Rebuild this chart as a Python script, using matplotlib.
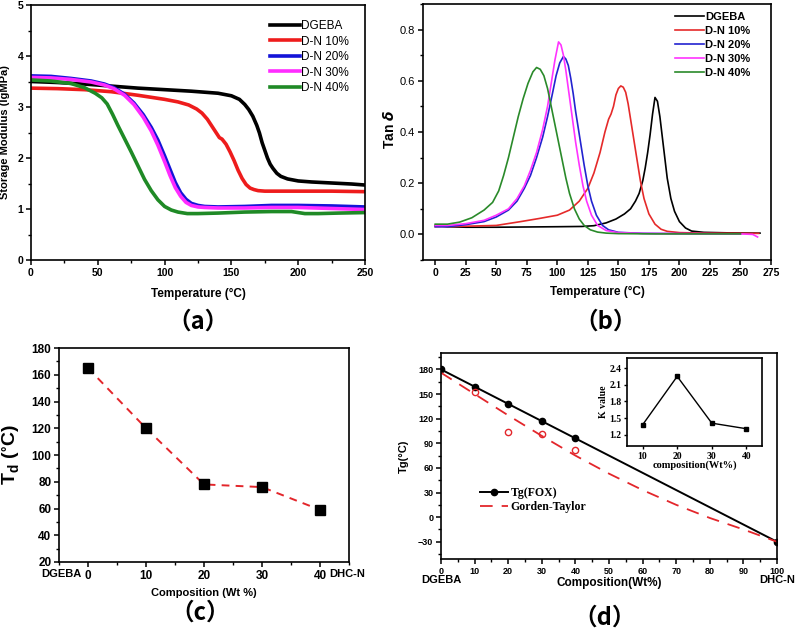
"""DMA / Tg summary figure: storage modulus, tan delta, Td and Tg vs composition."""

import matplotlib

matplotlib.use("Agg")
import matplotlib.pyplot as plt
from matplotlib.ticker import MultipleLocator

plt.rcParams["font.family"] = ["Liberation Sans", "DejaVu Sans"]
plt.rcParams["font.weight"] = "bold"
plt.rcParams["axes.labelweight"] = "bold"
plt.rcParams["axes.linewidth"] = 1.2
plt.rcParams["xtick.direction"] = "out"
plt.rcParams["ytick.direction"] = "out"

SERIES = ["DGEBA", "D-N 10%", "D-N 20%", "D-N 30%", "D-N 40%"]

# ---- (a) storage modulus (lgMPa) vs temperature ----
a_dgeba_t = [0, 20, 40, 60, 80, 100, 120, 140, 150, 156, 160, 163, 166, 169, 171, 173, 175,
             177, 179, 181, 184, 187, 192, 200, 210, 225, 240, 250]
a_dgeba_e = [3.50, 3.48, 3.45, 3.41, 3.37, 3.34, 3.31, 3.27, 3.22, 3.15, 3.05, 2.95, 2.82, 2.64,
             2.49, 2.30, 2.15, 2.00, 1.88, 1.80, 1.70, 1.64, 1.59, 1.55, 1.53, 1.51, 1.49, 1.47]
a_dn10_t = [0, 20, 40, 60, 80, 100, 110, 118, 124, 128, 132, 136, 139, 141, 143, 146, 149, 152,
            155, 158, 161, 164, 167, 170, 175, 185, 200, 225, 250]
a_dn10_e = [3.37, 3.36, 3.34, 3.30, 3.23, 3.15, 3.10, 3.04, 2.96, 2.88, 2.76, 2.60, 2.48, 2.40,
            2.37, 2.27, 2.12, 1.95, 1.76, 1.60, 1.48, 1.41, 1.38, 1.36, 1.35, 1.35, 1.35, 1.35, 1.34]
a_dn20_t = [0, 15, 30, 45, 55, 62, 70, 77, 84, 90, 95, 100, 104, 108, 112, 116, 120, 125, 130,
            140, 160, 180, 200, 225, 250]
a_dn20_e = [3.61, 3.60, 3.56, 3.51, 3.45, 3.38, 3.25, 3.08, 2.85, 2.60, 2.35, 2.04, 1.78, 1.52,
            1.32, 1.19, 1.11, 1.07, 1.05, 1.04, 1.05, 1.07, 1.07, 1.06, 1.04]
a_dn30_t = [0, 15, 30, 45, 55, 62, 70, 77, 84, 90, 95, 100, 104, 108, 112, 116, 120, 125, 130,
            140, 160, 180, 200, 225, 250]
a_dn30_e = [3.58, 3.57, 3.54, 3.49, 3.43, 3.36, 3.23, 3.05, 2.80, 2.53, 2.25, 1.93, 1.66, 1.42,
            1.25, 1.13, 1.07, 1.04, 1.03, 1.02, 1.02, 1.03, 1.03, 1.01, 0.99]
a_dn40_t = [0, 15, 30, 40, 48, 53, 57, 61, 65, 70, 75, 80, 85, 90, 95, 100, 105, 110, 117, 125,
            140, 160, 180, 195, 200, 205, 215, 230, 250]
a_dn40_e = [3.53, 3.51, 3.46, 3.38, 3.27, 3.18, 3.06, 2.86, 2.64, 2.38, 2.12, 1.85, 1.58, 1.36,
            1.18, 1.05, 0.98, 0.94, 0.91, 0.91, 0.92, 0.94, 0.95, 0.95, 0.93, 0.91, 0.91, 0.92, 0.93]

# ---- (b) tan delta vs temperature ----
b_dgeba_t = [0, 10, 25, 50, 75, 100, 120, 130, 140, 148, 155, 160, 164, 167, 170, 172, 174, 176,
             178, 180, 182, 184, 186, 188, 190, 193, 196, 200, 205, 210, 220, 240, 266]
b_dgeba_d = [0.035, 0.03, 0.028, 0.028, 0.029, 0.03, 0.031, 0.034, 0.045, 0.06, 0.08, 0.10, 0.13,
             0.16, 0.21, 0.26, 0.32, 0.39, 0.47, 0.535, 0.52, 0.46, 0.38, 0.30, 0.22, 0.14, 0.09,
             0.05, 0.025, 0.013, 0.008, 0.006, 0.005]
b_dn10_t = [0, 25, 50, 70, 85, 100, 110, 118, 125, 130, 135, 139, 142, 144, 146, 148, 150, 152,
            154, 156, 158, 160, 163, 166, 168, 171, 175, 180, 185, 190, 200, 220, 265]
b_dn10_d = [0.03, 0.032, 0.035, 0.05, 0.062, 0.075, 0.095, 0.13, 0.18, 0.24, 0.32, 0.40, 0.45,
            0.47, 0.50, 0.545, 0.57, 0.58, 0.575, 0.555, 0.51, 0.45, 0.36, 0.27, 0.21, 0.14, 0.08,
            0.04, 0.02, 0.012, 0.007, 0.005, 0.004]
b_dn20_t = [0, 10, 25, 40, 50, 60, 67, 73, 78, 83, 88, 92, 96, 99, 102, 105, 107, 109, 111, 113,
            115, 117, 119, 122, 125, 128, 132, 137, 142, 150, 170, 200, 250]
b_dn20_d = [0.03, 0.03, 0.038, 0.05, 0.068, 0.095, 0.13, 0.18, 0.23, 0.30, 0.38, 0.46, 0.55, 0.62,
            0.67, 0.695, 0.685, 0.66, 0.61, 0.55, 0.48, 0.42, 0.36, 0.27, 0.19, 0.13, 0.075, 0.035,
            0.018, 0.008, 0.004, 0.003, 0.002]
b_dn30_t = [0, 10, 25, 40, 50, 60, 67, 73, 78, 83, 88, 92, 95, 98, 101, 103, 105, 107, 109, 111,
            113, 115, 118, 121, 124, 128, 133, 140, 150, 170, 200, 250, 260, 264]
b_dn30_d = [0.035, 0.035, 0.042, 0.055, 0.075, 0.10, 0.14, 0.19, 0.25, 0.32, 0.41, 0.50, 0.59,
            0.68, 0.752, 0.74, 0.70, 0.64, 0.57, 0.50, 0.43, 0.36, 0.27, 0.19, 0.13, 0.075, 0.035,
            0.015, 0.007, 0.004, 0.003, 0.002, 0.0, -0.01]
b_dn40_t = [0, 10, 20, 30, 40, 47, 52, 56, 60, 64, 68, 72, 76, 80, 83, 86, 89, 92, 95, 98, 101,
            104, 107, 110, 114, 118, 122, 127, 133, 140, 150, 180, 220, 250]
b_dn40_d = [0.04, 0.04, 0.048, 0.065, 0.095, 0.125, 0.17, 0.23, 0.30, 0.38, 0.46, 0.53, 0.59,
            0.635, 0.652, 0.645, 0.62, 0.57, 0.50, 0.43, 0.36, 0.29, 0.22, 0.16, 0.10, 0.06, 0.035,
            0.018, 0.009, 0.005, 0.003, 0.002, 0.002, 0.002]
b_yticks = [0.0, 0.2, 0.4, 0.6, 0.8]
b_yticklabels = ["0.0", "0.2", "0.4", "0.6", "0.8"]

# ---- (c) Td vs composition ----
c_comp = [0, 10, 20, 30, 40]
c_td = [165, 120, 78, 76, 59]

# ---- (d) Tg vs composition ----
d_fox_comp = [0, 10, 20, 30, 40, 100]
d_fox_tg = [180, 159, 138, 117, 96, -30]
d_gt_comp = [0, 10, 20, 30, 40, 50, 60, 70, 80, 90, 100]
d_gt_tg = [176, 150, 124, 99, 75, 53, 33, 15, -1, -15, -30]
d_exp_comp = [10, 20, 30, 40]
d_exp_tg = [152, 104, 101, 82]
d_yticks = [-30, 0, 30, 60, 90, 120, 150, 180]
k_comp = [10, 20, 30, 40]
k_value = [1.38, 2.25, 1.41, 1.31]
k_yticks = [1.2, 1.5, 1.8, 2.1, 2.4]

COL_A = ["black", "#ee1c1c", "#1414d8", "#ff2cff", "#1f8a26"]
COL_B = ["black", "#e52a2a", "#2323d0", "#ff33ff", "#2a8a2a"]
RED = "#e3262b"
CJK = ["Noto Sans CJK SC", "DejaVu Sans"]
SERIF = ["Liberation Serif", "DejaVu Serif"]

W, H = 800, 632


def box(l, t, r, b):
    return [l / W, (H - b) / H, (r - l) / W, (b - t) / H]


def style_ticks(ax, size):
    ax.tick_params(which="major", length=3.5, width=1.1, labelsize=size, pad=2)
    ax.tick_params(which="minor", length=2, width=1.0)


def place_labels(ax, xlab, ylab):
    ax.xaxis.label.set_va("center")
    ax.yaxis.label.set_va("center")
    ax.xaxis.set_label_coords(*xlab)
    ax.yaxis.set_label_coords(*ylab)


fig = plt.figure(figsize=(8, 6.32), dpi=100)

# (a)
ax = fig.add_axes(box(31, 5, 365, 260))
a_data = [(a_dgeba_t, a_dgeba_e), (a_dn10_t, a_dn10_e), (a_dn20_t, a_dn20_e),
          (a_dn30_t, a_dn30_e), (a_dn40_t, a_dn40_e)]
for (t, e), name, c in zip(a_data, SERIES, COL_A):
    ax.plot(t, e, color=c, lw=2.6, label=name)
ax.set_xlim(0, 250)
ax.set_ylim(0, 5)
ax.xaxis.set_major_locator(MultipleLocator(50))
ax.xaxis.set_minor_locator(MultipleLocator(25))
ax.yaxis.set_major_locator(MultipleLocator(1))
ax.yaxis.set_minor_locator(MultipleLocator(0.5))
style_ticks(ax, 7.5)
ax.set_xlabel("Temperature (°C)", fontsize=8.5)
ax.set_ylabel("Storage Modulus (lgMPa)", fontsize=8)
place_labels(ax, (0.5, -0.133), (-0.078, 0.5))
ax.legend(loc="upper left", bbox_to_anchor=(270 / W, 1 - 20 / H), bbox_transform=fig.transFigure,
          frameon=False, prop={"weight": "normal", "size": 8.5}, handlelength=2.5,
          handletextpad=0.1, labelspacing=0.3, borderpad=0, borderaxespad=0)

# (b)
ax = fig.add_axes(box(423, 4, 771, 260))
b_data = [(b_dgeba_t, b_dgeba_d), (b_dn10_t, b_dn10_d), (b_dn20_t, b_dn20_d),
          (b_dn30_t, b_dn30_d), (b_dn40_t, b_dn40_d)]
for (t, d), name, c in zip(b_data, SERIES, COL_B):
    ax.plot(t, d, color=c, lw=1.2, label=name)
ax.set_xlim(-10, 275)
ax.set_ylim(-0.1, 0.9)
ax.xaxis.set_major_locator(MultipleLocator(25))
ax.yaxis.set_minor_locator(MultipleLocator(0.1))
ax.set_yticks(b_yticks, b_yticklabels, fontweight="normal", fontsize=8)
style_ticks(ax, 7.5)
ax.tick_params(axis="y", labelsize=8)
ax.set_xlabel("Temperature (°C)", fontsize=8.5)
ax.set_ylabel(r"Tan $\mathit{\delta}$", fontsize=10)
place_labels(ax, (0.5, -0.124), (-0.095, 0.51))
ax.legend(loc="upper left", bbox_to_anchor=(675 / W, 1 - 12 / H),
          bbox_transform=fig.transFigure, frameon=False, fontsize=8,
          handlelength=2.6, handletextpad=0.1, labelspacing=0.35,
          borderpad=0, borderaxespad=0)

# (c)
ax = fig.add_axes(box(59, 348, 349, 562))
ax.plot(c_comp, c_td, color=RED, lw=1.4, ls=(0, (4, 3.2)))
ax.plot(c_comp, c_td, ls="none", marker="s", ms=7, color="black")
ax.set_xlim(-5, 45)
ax.set_ylim(20, 180)
ax.set_xticks(c_comp)
ax.xaxis.set_minor_locator(MultipleLocator(5))
ax.yaxis.set_major_locator(MultipleLocator(20))
ax.yaxis.set_minor_locator(MultipleLocator(10))
style_ticks(ax, 8.5)
ax.set_xlabel("Composition (Wt %)", fontsize=8)
ax.set_ylabel(r"T$_\mathregular{d}$ ($^\mathregular{\circ}$C)", fontsize=14)
place_labels(ax, (0.5, -0.145), (-0.162, 0.5))
xt = ax.get_xaxis_transform()
ax.annotate("DGEBA", xy=(0, 0), xycoords=xt, xytext=(-4.5, -8.8), textcoords="offset points",
            ha="right", va="center", fontsize=8)
ax.annotate("DHC-N", xy=(40, 0), xycoords=xt, xytext=(7, -8.8), textcoords="offset points",
            ha="left", va="center", fontsize=8)

# (d)
ax = fig.add_axes(box(441, 353, 777, 559))
ax.plot(d_fox_comp, d_fox_tg, color="black", lw=1.4, marker="o", ms=4.5, label="Tg(FOX)")
ax.plot(d_gt_comp, d_gt_tg, color=RED, lw=1.3, ls=(0, (7, 5)), label="Gorden-Taylor")
ax.plot(d_exp_comp, d_exp_tg, ls="none", marker="o", ms=4.5, mfc="none", mec=RED, mew=1.0)
ax.set_xlim(0, 100)
ax.set_ylim(-51, 200)
ax.xaxis.set_major_locator(MultipleLocator(10))
ax.xaxis.set_minor_locator(MultipleLocator(5))
ax.set_yticks(d_yticks)
ax.yaxis.set_minor_locator(MultipleLocator(15))
style_ticks(ax, 6.5)
ax.set_xlabel("Composition(Wt%)", fontsize=8.5)
ax.set_ylabel("Tg(°C)", fontsize=8)
place_labels(ax, (0.5, -0.117), (-0.11, 0.5))
xt = ax.get_xaxis_transform()
ax.text(0, -0.1, "DGEBA", transform=xt, ha="center", va="center", fontsize=8)
ax.text(100, -0.1, "DHC-N", transform=xt, ha="center", va="center", fontsize=8)
ax.legend(loc="upper left", bbox_to_anchor=(480 / W, 1 - 487 / H),
          bbox_transform=fig.transFigure, frameon=False, numpoints=1,
          prop={"family": SERIF, "weight": "bold", "size": 8.5},
          handlelength=2.4, handletextpad=0.2, labelspacing=0.15,
          borderpad=0, borderaxespad=0)

# inset: K value
axi = fig.add_axes(box(627, 358, 762, 446))
axi.plot(k_comp, k_value, color="black", lw=1.0, marker="s", ms=3)
axi.set_xlim(5.5, 44.5)
axi.set_ylim(1.0, 2.58)
axi.set_xticks(k_comp, [str(v) for v in k_comp], fontfamily=SERIF)
axi.set_yticks(k_yticks, [f"{v:.1f}" for v in k_yticks], fontfamily=SERIF)
axi.tick_params(length=2.5, width=1.0, labelsize=7, pad=1.5)
axi.set_xlabel("composition(Wt%)", fontsize=7.5, family=SERIF, labelpad=0)
axi.set_ylabel("K value", fontsize=7, family=SERIF, labelpad=1)

# panel letters
for x, y, s in [(198, 322, "（a）"), (606, 322, "（b）"), (200, 613, "（c）"), (605, 618, "（d）")]:
    fig.text(x / W, 1 - y / H, s, ha="center", va="center", fontsize=17, family=CJK)

fig.savefig("out.png", dpi=100)
